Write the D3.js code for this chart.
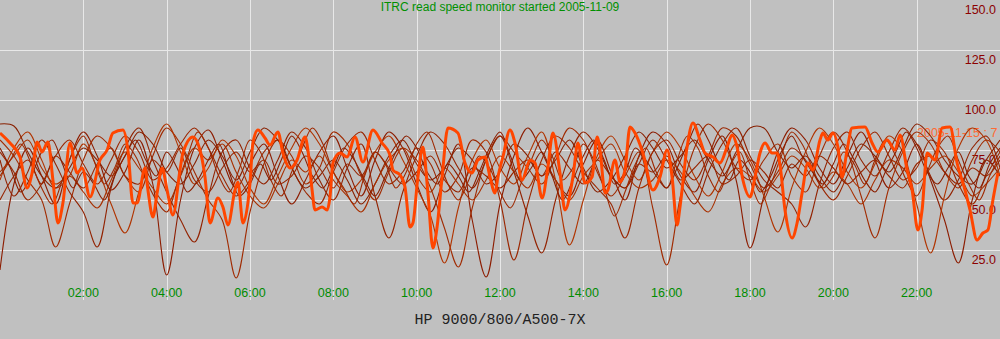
<!DOCTYPE html>
<html>
<head>
<meta charset="utf-8">
<script src="https://cdn.jsdelivr.net/npm/d3@7"></script>
<style>
  html, body { margin: 0; padding: 0; background: #c0c0c0; }
  svg { display: block; }
</style>
</head>
<body>
<div id="chart"></div>
<script>
// hour ticks along the bottom, value ticks along the right edge
const hourTicks = [2, 4, 6, 8, 10, 12, 14, 16, 18, 20, 22]
const valueTicks = [150, 125, 100, 75, 50, 25]
const gridValues = [125, 100, 75, 50, 25]

// thin per-day curves, sampled evenly across 00:00..24:00
const day1 = [15, 58, 76, 62, 48, 70, 84, 72, 55, 64, 80, 58, 12.5, 50, 76, 85, 70, 56, 68, 78, 62, 48, 60, 74, 82, 66, 52, 70, 84, 76, 58, 44, 62, 78, 40, 11.5, 48, 72, 86, 74, 60, 52, 68, 80, 64, 50, 72, 84, 78, 62, 54, 70, 82, 60, 26, 52, 74, 86, 80, 66, 58, 72, 84, 70, 56, 64, 78, 60, 40, 18.5, 50, 70, 62]
const day2 = [80, 72, 60, 50, 26.5, 48, 70, 82, 76, 62, 54, 72, 86, 78, 64, 50, 40, 11, 44, 68, 80, 72, 58, 66, 84, 78, 62, 50, 64, 76, 70, 56, 36, 16.5, 46, 70, 82, 74, 66, 58, 72, 86, 80, 64, 52, 62, 74, 46, 17.5, 52, 76, 88, 80, 66, 60, 70, 78, 62, 54, 72, 84, 74, 52, 31, 56, 74, 84, 78, 64, 56, 70, 80, 74]
const day3 = [70, 52, 64, 80, 68, 54, 44, 26.5, 56, 76, 86, 70, 54, 40, 29, 52, 74, 80, 66, 58, 70, 84, 76, 60, 50, 66, 78, 52, 31, 54, 72, 84, 78, 66, 56, 70, 82, 64, 42, 23.5, 50, 72, 84, 76, 62, 56, 68, 80, 70, 58, 48, 64, 78, 86, 72, 60, 54, 48, 36.5, 58, 76, 84, 70, 62, 74, 86, 78, 62, 50, 60, 76, 82, 66]
const day4 = [60, 76, 84, 70, 56, 62, 78, 66, 48, 33.5, 54, 76, 88, 74, 58, 66, 80, 72, 56, 48, 62, 76, 86, 78, 64, 54, 60, 74, 82, 70, 56, 42, 18.5, 46, 70, 80, 66, 58, 72, 84, 60, 27.5, 50, 72, 82, 70, 60, 74, 84, 76, 62, 52, 64, 78, 70, 52, 34, 56, 74, 86, 78, 64, 56, 68, 82, 74, 48, 23.5, 52, 76, 86, 80, 62]
const day5 = [74, 64, 50, 58, 72, 80, 68, 58, 70, 82, 74, 60, 66, 78, 86, 76, 62, 52, 60, 74, 80, 66, 54, 48, 64, 78, 84, 70, 58, 64, 76, 68, 54, 62, 80, 74, 50, 20, 48, 70, 82, 76, 64, 56, 48, 31, 56, 74, 80, 68, 60, 72, 86, 82, 68, 56, 64, 76, 70, 58, 50, 62, 76, 84, 72, 60, 66, 80, 74, 58, 48, 62, 74]
const day6 = [88, 87, 74, 62, 56, 66, 76, 70, 62, 72, 84, 78, 64, 58, 68, 80, 72, 60, 74, 86, 80, 66, 56, 62, 70, 60, 48, 58, 72, 80, 68, 60, 66, 76, 70, 58, 64, 78, 72, 62, 70, 80, 66, 54, 60, 72, 84, 76, 66, 72, 80, 70, 62, 74, 86, 86, 74, 66, 72, 62, 54, 66, 78, 72, 64, 76, 88, 82, 70, 62, 58, 70, 80]
const day7 = [64, 72, 80, 66, 58, 62, 54, 46, 60, 74, 66, 56, 48, 62, 76, 70, 78, 64, 52, 46, 58, 70, 64, 72, 60, 52, 44, 58, 70, 76, 62, 54, 66, 58, 50, 60, 72, 64, 56, 68, 60, 50, 62, 70, 78, 64, 56, 60, 70, 64, 52, 44, 58, 66, 62, 54, 62, 72, 66, 56, 64, 58, 48, 60, 70, 66, 58, 66, 72, 64, 52, 58, 66]
const day8 = [50, 62, 70, 58, 72, 64, 56, 68, 76, 62, 58, 70, 64, 76, 60, 54, 66, 74, 64, 70, 58, 62, 72, 66, 56, 68, 62, 74, 66, 58, 64, 72, 60, 54, 66, 62, 56, 64, 70, 62, 74, 66, 58, 70, 62, 56, 68, 64, 72, 60, 66, 72, 58, 62, 70, 64, 56, 68, 62, 72, 66, 58, 64, 70, 62, 56, 68, 72, 64, 58, 66, 62, 70]
const day9 = [62, 70, 78, 68, 56, 48, 60, 74, 82, 70, 58, 66, 78, 72, 60, 50, 44, 58, 72, 84, 76, 62, 54, 66, 80, 74, 60, 52, 64, 76, 86, 78, 64, 56, 48, 62, 74, 68, 56, 64, 78, 84, 72, 58, 50, 60, 72, 66, 54, 46, 58, 70, 80, 72, 60, 66, 78, 70, 56, 42, 54, 68, 76, 64, 56, 70, 82, 76, 62, 54, 66, 74, 60, 48, 58, 72, 84, 78, 66, 56, 62, 74, 68, 58, 70, 80, 72, 60, 52, 64, 76, 82, 70, 58, 50, 62, 72]
const day10 = [76, 66, 54, 62, 74, 80, 68, 56, 64, 58, 50, 62, 72, 80, 70, 62, 74, 66, 54, 60, 70, 78, 64, 52, 58, 68, 60, 70, 82, 74, 62, 56, 66, 76, 70, 60, 52, 62, 74, 82, 76, 64, 58, 68, 62, 54, 64, 76, 84, 72, 60, 66, 74, 62, 50, 60, 72, 80, 70, 58, 64, 76, 70, 62, 56, 66, 78, 88, 80, 68, 60, 70, 64, 54, 62, 74, 82, 72, 64, 58, 68, 78, 70, 60, 54, 64, 74, 84, 76, 64, 58, 66, 74, 62, 56, 68, 76]
const thinColors = ['#8c1c00', '#a02a00', '#922200', '#b03400', '#9a2600', '#882000', '#a83000', '#962400', '#9e2800', '#8a1e00']

// the highlighted current day (2005-11-15), hours and values
const todayHours = [0.00, 0.24, 0.48, 0.65, 0.77, 0.89, 1.01, 1.15, 1.27, 1.39, 1.51, 1.68, 1.85, 1.97, 2.16, 2.40, 2.57, 2.71, 2.95, 3.07, 3.19, 3.29, 3.48, 3.55, 3.67, 3.77, 3.89, 4.01, 4.15, 4.32, 4.39, 4.63, 4.80, 4.92, 5.04, 5.23, 5.35, 5.47, 5.64, 5.71, 5.83, 6.00, 6.07, 6.19, 6.36, 6.48, 6.67, 6.79, 6.96, 7.13, 7.32, 7.39, 7.49, 7.56, 7.73, 7.85, 7.92, 7.99, 8.16, 8.33, 8.52, 8.71, 8.95, 9.17, 9.36, 9.43, 9.60, 9.72, 9.84, 9.91, 10.03, 10.15, 10.27, 10.39, 10.49, 10.61, 10.75, 10.99, 11.16, 11.33, 11.47, 11.64, 11.76, 11.88, 11.95, 12.07, 12.24, 12.36, 12.53, 12.72, 12.84, 13.01, 13.15, 13.27, 13.44, 13.56, 13.75, 13.87, 14.04, 14.21, 14.33, 14.40, 14.52, 14.59, 14.76, 14.88, 15.00, 15.12, 15.24, 15.43, 15.67, 15.84, 16.01, 16.13, 16.25, 16.32, 16.49, 16.63, 16.80, 16.92, 17.11, 17.28, 17.45, 17.57, 17.69, 17.83, 18.00, 18.12, 18.24, 18.36, 18.53, 18.65, 18.72, 18.84, 19.01, 19.13, 19.25, 19.39, 19.51, 19.68, 19.75, 19.87, 19.99, 20.11, 20.21, 20.33, 20.45, 20.76, 20.93, 21.07, 21.29, 21.48, 21.60, 21.77, 21.89, 22.03, 22.13, 22.25, 22.44, 22.61, 22.80, 22.97, 23.16, 23.28, 23.45, 23.59, 23.71, 23.83, 23.95]
const todayValues = [83.5, 78.5, 71.5, 56, 63.5, 79, 74, 79, 60, 38.5, 48.5, 78.5, 63.5, 66, 51.5, 70, 75, 83.5, 85, 75, 48.5, 48.5, 66, 55, 41.5, 53.5, 66, 55, 42.5, 65, 73.5, 81.5, 75, 61.5, 38.5, 51, 46.5, 37.5, 55, 59, 38.5, 58.5, 78.5, 85, 81, 77.5, 84, 73.5, 66, 70, 81.5, 75, 55, 45, 46.5, 45, 51.5, 68.5, 73.5, 71.5, 81.5, 69, 85, 78.5, 72.5, 65, 62.5, 56.5, 36.5, 38.5, 61.5, 76.5, 53.5, 26, 36.5, 61.5, 86, 83.5, 68.5, 63.5, 70, 71.5, 61.5, 53.5, 61.5, 71.5, 85, 78.5, 60, 70, 68.5, 51, 66.5, 83.5, 63.5, 45, 61.5, 78.5, 58.5, 61.5, 81.5, 75, 53.5, 55, 70, 59, 65, 86.5, 83.5, 73.5, 55, 61.5, 75, 61.5, 37.5, 46.5, 76.5, 88.5, 80, 73.5, 71.5, 68.5, 76.5, 82.5, 76.5, 60, 51.5, 61.5, 73.5, 78.5, 73.5, 73.5, 67.5, 45, 31, 38.5, 53.5, 68.5, 65, 80, 83.5, 80, 83.5, 76.5, 61.5, 75, 86, 86.5, 78.5, 74, 80, 75, 82.5, 65, 55, 35, 45, 73.5, 70, 86, 86.5, 68.5, 55, 45, 30, 33.5, 35, 50, 63.5]

const W = 1000, H = 339

const svg = d3.select('#chart').append('svg')
  .attr('width', W)
  .attr('height', H)
  .style('font-family', '"Liberation Sans", Arial, sans-serif')

svg.append('rect').attr('width', W).attr('height', H).attr('fill', '#c0c0c0')

var x = d3.scaleLinear().domain([0, 24]).range([0, W])
var y = d3.scaleLinear().domain([0, 150]).range([300, 0])

// grid
svg.append('g').selectAll('line')
  .data(gridValues)
  .enter().append('line')
    .attr('x1', 0).attr('x2', W)
    .attr('y1', d => Math.round(y(d)) + 0.5)
    .attr('y2', d => Math.round(y(d)) + 0.5)
    .style('stroke', '#e8e8e8')
    .style('stroke-width', 1)

svg.append('g').selectAll('line')
  .data(hourTicks)
  .enter().append('line')
    .attr('x1', d => Math.round(x(d)) + 0.5)
    .attr('x2', d => Math.round(x(d)) + 0.5)
    .attr('y1', 0).attr('y2', 300)
    .style('stroke', '#e8e8e8')
    .style('stroke-width', 1)

// labels sit underneath the curves
svg.append('g').selectAll('text')
  .data(valueTicks)
  .enter().append('text')
    .attr('x', 996)
    .attr('y', d => y(d) + 14)
    .attr('text-anchor', 'end')
    .style('font-size', '12.5px')
    .style('fill', '#8c0000')
    .text(d => d.toFixed(1))

svg.append('g').selectAll('text')
  .data(hourTicks)
  .enter().append('text')
    .attr('x', d => x(d))
    .attr('y', 297)
    .attr('text-anchor', 'middle')
    .style('font-size', '12.5px')
    .style('fill', '#008c00')
    .text(d => d3.format('02')(d) + ':00')

svg.append('text')
  .attr('x', 500)
  .attr('y', 11)
  .attr('text-anchor', 'middle')
  .style('font-size', '12px')
  .style('fill', '#009000')
  .text('ITRC read speed monitor started 2005-11-09')

svg.append('text')
  .attr('x', 917)
  .attr('y', 137)
  .style('font-size', '12.5px')
  .style('fill', '#ff6a33')
  .text('2005-11-15 : 7')

svg.append('text')
  .attr('x', 500)
  .attr('y', 324)
  .attr('text-anchor', 'middle')
  .style('font-family', '"Liberation Mono", "DejaVu Sans Mono", monospace')
  .style('font-size', '15px')
  .style('fill', '#222')
  .text('HP 9000/800/A500-7X')

// curves
var line = d3.line()
  .x(d => x(d[0]))
  .y(d => y(d[1]))
  .curve(d3.curveMonotoneX)

var thinLine = d3.line()
  .x(d => x(d[0]))
  .y(d => y(d[1]))
  .curve(d3.curveCatmullRom)

var days = [day1, day2, day3, day4, day5, day6, day7, day8, day9, day10]
svg.append('g').selectAll('path')
  .data(days)
  .enter().append('path')
    .attr('d', vals => thinLine(vals.map((v, i) => [i * 24 / (vals.length - 1), v])))
    .style('fill', 'none')
    .style('stroke', (d, i) => thinColors[i])
    .style('stroke-width', 1.1)

svg.append('path')
  .attr('d', line(todayHours.map((h, i) => [h, todayValues[i]])))
  .style('fill', 'none')
  .style('stroke', '#ff4600')
  .style('stroke-width', 3)
  .style('stroke-linejoin', 'round')
</script>
</body>
</html>
